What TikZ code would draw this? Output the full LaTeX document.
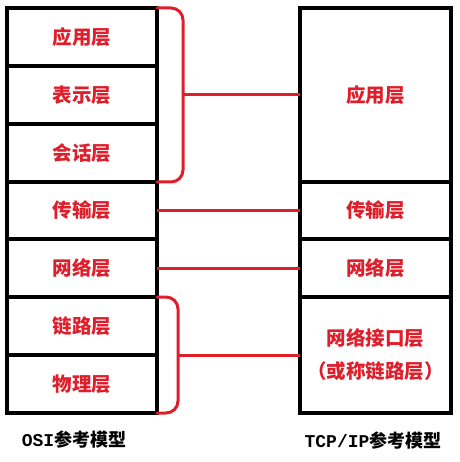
\documentclass[tikz,border=0pt]{standalone}
\usepackage{fontspec}
\setmainfont{Noto Sans CJK SC}
\newfontfamily\lat{Liberation Mono}
\definecolor{layred}{RGB}{222,30,42}

\begin{document}
\begin{tikzpicture}[x=1pt,y=-1pt,line cap=rect]
	\tikzstyle{ceng}=[draw,line width=4.5pt,outer sep=0pt,inner sep=0pt,rectangle,text=layred,font=\fontsize{19.5}{33}\selectfont\bfseries,align=center];
	\tikzstyle{lian}=[draw=layred,line width=3pt,line cap=round];
	\useasboundingbox (0,0) rectangle (459,462);
	%% OSI layers
	\node[ceng,minimum width=150pt,minimum height=58pt] (A) at (82,37)    {应用层};
	\node[ceng,minimum width=150pt,minimum height=58pt] (B) at (82,95)    {表示层};
	\node[ceng,minimum width=150pt,minimum height=58pt] (C) at (82,153)   {会话层};
	\node[ceng,minimum width=150pt,minimum height=57pt] (D) at (82,210.5) {传输层};
	\node[ceng,minimum width=150pt,minimum height=58pt] (E) at (82,268)   {网络层};
	\node[ceng,minimum width=150pt,minimum height=58pt] (F) at (82,326)   {链路层};
	\node[ceng,minimum width=150pt,minimum height=58pt] (G) at (82,384)   {物理层};
	%% TCP/IP layers
	\node[ceng,minimum width=151pt,minimum height=174pt] (TA) at (375.5,95)    {应用层};
	\node[ceng,minimum width=151pt,minimum height=57pt]  (TD) at (375.5,210.5) {传输层};
	\node[ceng,minimum width=151pt,minimum height=58pt]  (TE) at (375.5,268)   {网络层};
	\node[ceng,minimum width=151pt,minimum height=116pt] (TF) at (375.5,355)   {网络接口层\\（或称链路层）};
	%% captions
	\node[font=\fontsize{18}{20}\selectfont\bfseries] (osi) at (74,440)  {{\lat OSI}参考模型};
	\node[font=\fontsize{18}{20}\selectfont\bfseries] (tcp) at (373,441) {{\lat TCP/IP}参考模型};
	%% connections
	\coordinate (up) at (183,95);
	\coordinate (lo) at (178,355);
	\draw[lian,rounded corners=12pt] (A.north east) -| (up) |- (C.south east);
	\draw[lian,rounded corners=12pt] (F.north east) -| (lo) |- (G.south east);
	\draw[lian,line cap=butt] (up) -- (TA.west);
	\draw[lian,line cap=butt] (D.east) -- (TD.west);
	\draw[lian,line cap=butt] (E.east) -- (TE.west);
	\draw[lian,line cap=butt] (lo) -- (TF.west);
\end{tikzpicture}
\end{document}
